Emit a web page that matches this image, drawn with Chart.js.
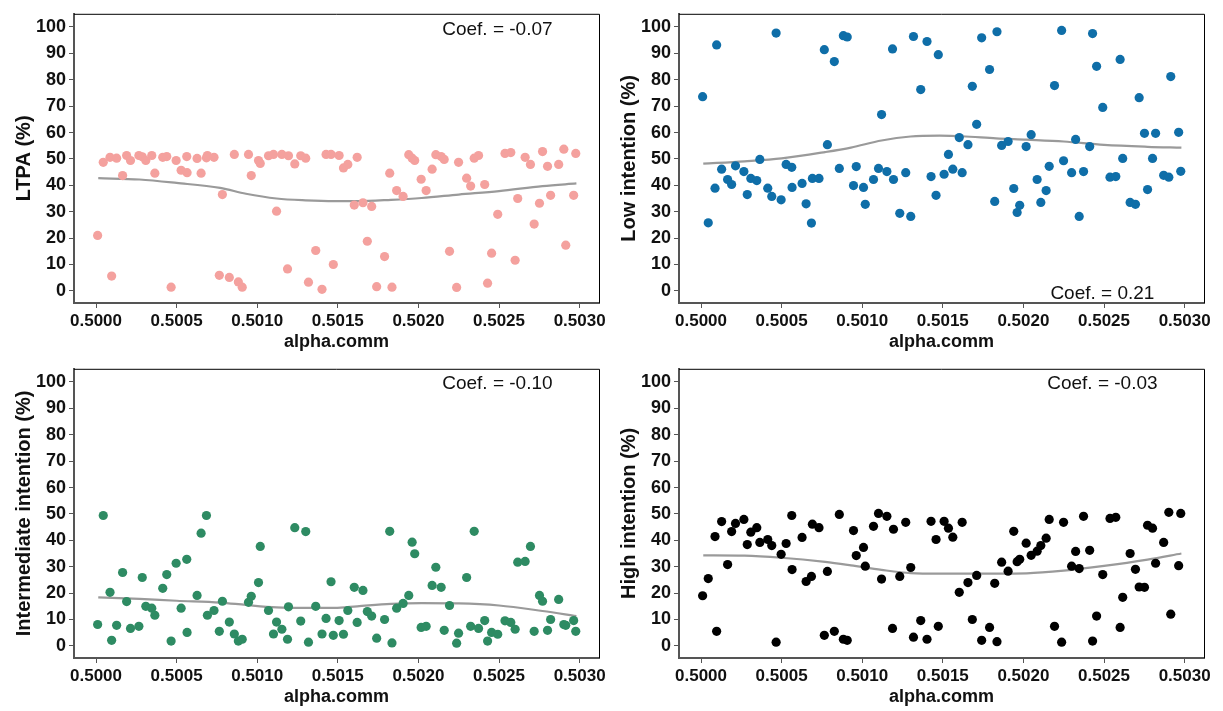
<!DOCTYPE html>
<html>
<head>
<meta charset="utf-8">
<script src="https://cdn.jsdelivr.net/npm/chart.js@4.4.0/dist/chart.umd.min.js"></script>
<style>
  html, body { margin: 0; padding: 0; background: #fff; }
  #wrap { position: relative; width: 1223px; height: 711px; overflow: hidden; }
  .panel { position: absolute; }
</style>
</head>
<body>
<div id="wrap">
  <canvas id="c1" class="panel" width="611" height="355" style="left:0;top:0"></canvas>
  <canvas id="c2" class="panel" width="612" height="355" style="left:611px;top:0"></canvas>
  <canvas id="c3" class="panel" width="611" height="356" style="left:0;top:355px"></canvas>
  <canvas id="c4" class="panel" width="612" height="356" style="left:611px;top:355px"></canvas>
</div>
<script>
// alpha.comm values shared by all four panels
const alpha = [
  0.50001, 0.500045, 0.500087, 0.500097, 0.500128, 0.500165, 0.50019, 0.500214, 0.500266, 0.500287,
  0.500309, 0.500346, 0.500365, 0.500414, 0.500439, 0.500466, 0.500497, 0.500528, 0.500563, 0.500565,
  0.500627, 0.500652, 0.500685, 0.500691, 0.500732, 0.500765, 0.500784, 0.500827, 0.500858, 0.500883,
  0.500907, 0.500946, 0.500963, 0.501008, 0.501019, 0.50107, 0.501101, 0.50112, 0.501153, 0.501188,
  0.501194, 0.501233, 0.50127, 0.501301, 0.501318, 0.501363, 0.501402, 0.501427, 0.501458, 0.501472,
  0.501508, 0.501535, 0.501562, 0.501602, 0.50162, 0.501656, 0.501683, 0.50171, 0.501741, 0.50179,
  0.501822, 0.501836, 0.501865, 0.501905, 0.50194, 0.501961, 0.501977, 0.502017, 0.502048, 0.502085,
  0.502108, 0.502141, 0.50216, 0.502193, 0.502237, 0.502249, 0.502299, 0.502324, 0.502346, 0.502373,
  0.502411, 0.502429, 0.502454, 0.502492, 0.502537, 0.502573, 0.5026, 0.502616, 0.502662, 0.502695,
  0.502718, 0.502751, 0.50277, 0.502801, 0.50282, 0.50287, 0.502902, 0.502914, 0.502963, 0.502976
];

const ltpa = [
  21.0, 48.7, 50.6, 5.6, 50.3, 43.7, 51.3, 49.4, 51.3, 50.8,
  49.4, 51.3, 44.6, 50.6, 50.9, 1.4, 49.4, 45.7, 50.9, 44.8,
  50.2, 44.6, 50.4, 51.3, 50.6, 5.9, 36.5, 5.1, 51.7, 3.4,
  1.4, 51.7, 43.7, 49.4, 48.3, 51.2, 51.7, 30.2, 51.7, 8.3,
  51.2, 48.1, 51.2, 50.3, 3.3, 15.3, 0.6, 51.7, 51.7, 10.0,
  51.3, 46.6, 47.9, 32.5, 50.6, 33.4, 18.8, 32.0, 1.6, 13.0,
  44.6, 1.4, 38.0, 35.8, 51.6, 50.3, 49.4, 42.3, 38.0, 46.1,
  51.6, 50.9, 49.8, 15.0, 1.3, 48.7, 42.7, 39.7, 50.3, 51.3,
  40.3, 2.9, 14.3, 29.0, 52.1, 52.4, 11.6, 35.0, 50.6, 47.9,
  25.3, 33.2, 52.8, 47.2, 36.2, 47.9, 53.7, 17.3, 36.2, 52.1
];

const lowInt = [
  73.6, 25.8, 38.9, 93.2, 46.1, 42.2, 40.3, 47.4, 45.2, 36.5,
  42.6, 41.8, 49.8, 38.9, 35.8, 97.7, 34.5, 47.9, 46.8, 39.2,
  40.7, 33.0, 25.7, 42.6, 42.6, 91.4, 55.4, 86.9, 46.4, 96.7,
  96.2, 39.9, 47.1, 39.2, 32.8, 42.2, 46.4, 66.8, 45.2, 91.7,
  42.2, 29.4, 44.8, 28.2, 96.4, 76.3, 94.5, 43.3, 36.2, 89.5,
  44.2, 51.7, 46.1, 58.1, 44.8, 55.4, 77.5, 63.1, 95.9, 83.9,
  33.9, 98.2, 55.1, 56.6, 38.8, 29.7, 32.4, 54.7, 59.2, 42.2,
  33.5, 38.0, 47.2, 77.8, 98.7, 49.3, 44.8, 57.4, 28.2, 45.2,
  54.7, 97.5, 85.1, 69.5, 43.1, 43.3, 87.7, 50.2, 33.5, 32.8,
  73.2, 59.7, 38.4, 50.2, 59.7, 43.8, 43.1, 81.2, 60.1, 45.3
];

const midInt = [
  8.1, 49.4, 20.3, 2.1, 7.8, 27.8, 16.8, 6.6, 7.4, 25.9,
  15.0, 14.3, 11.6, 21.8, 27.0, 1.8, 31.3, 14.3, 32.8, 5.1,
  19.1, 42.7, 49.4, 11.6, 13.4, 5.5, 16.9, 9.0, 4.5, 1.8,
  2.5, 16.5, 18.8, 24.0, 37.7, 13.4, 4.5, 9.0, 6.3, 2.5,
  14.8, 44.8, 9.4, 43.3, 1.4, 15.0, 4.5, 10.4, 24.3, 4.0,
  9.6, 4.4, 13.4, 22.2, 8.9, 21.0, 13.0, 11.3, 2.9, 10.0,
  43.4, 1.1, 14.3, 16.1, 19.1, 39.3, 34.9, 7.0, 7.4, 22.9,
  29.8, 22.2, 5.9, 15.3, 1.0, 4.8, 25.9, 7.4, 43.4, 6.6,
  9.6, 1.8, 5.1, 4.4, 9.5, 8.9, 6.3, 31.7, 32.0, 37.7,
  5.5, 19.1, 16.9, 5.9, 10.0, 17.6, 8.1, 7.8, 9.6, 5.5
];

const highInt = [
  19.0, 25.5, 41.4, 5.5, 47.1, 30.8, 43.3, 46.4, 47.9, 38.4,
  43.1, 44.8, 39.2, 40.3, 38.0, 1.4, 34.7, 38.8, 49.4, 28.9,
  41.1, 24.4, 26.3, 46.1, 44.8, 4.0, 28.2, 5.5, 49.8, 2.5,
  2.1, 43.7, 34.2, 37.3, 30.2, 45.3, 50.2, 25.3, 49.1, 6.6,
  44.2, 26.3, 46.8, 29.7, 3.3, 9.6, 2.5, 47.2, 40.3, 7.4,
  47.2, 44.6, 41.2, 20.3, 46.8, 24.0, 10.0, 26.7, 2.1, 7.0,
  23.7, 1.6, 31.7, 28.3, 43.4, 31.9, 32.8, 38.9, 34.3, 35.9,
  38.0, 40.8, 47.9, 7.4, 1.4, 46.8, 30.2, 35.8, 29.3, 49.1,
  36.2, 1.8, 11.3, 27.0, 48.3, 48.7, 7.0, 18.4, 35.0, 29.0,
  22.3, 22.2, 45.7, 44.6, 31.3, 39.2, 50.6, 12.0, 30.4, 50.2
];

// loess smooth curves
const fitAlpha = [0.500014, 0.50027, 0.5005, 0.50077, 0.50093, 0.50112, 0.5013, 0.50148,
                  0.50162, 0.50183, 0.50202, 0.50225, 0.5025, 0.50277, 0.50298];
const ltpaFit = [42.7, 42.2, 40.9, 39.0, 36.8, 35.0, 34.3, 34.0, 34.0, 34.5, 35.2, 36.5, 37.8, 39.7, 40.7];
const lowFit  = [48.2, 49.1, 50.2, 52.6, 54.3, 57.0, 58.5, 58.8, 58.6, 57.8, 57.3, 56.6, 55.3, 54.6, 54.3];
const midFit  = [18.4, 17.8, 17.1, 16.4, 15.5, 14.6, 14.4, 14.4, 15.0, 15.9, 16.2, 16.1, 15.3, 13.2, 11.3];
const highFit = [34.3, 34.2, 33.4, 31.8, 30.5, 28.8, 27.6, 27.4, 27.4, 27.4, 27.5, 28.5, 30.3, 32.7, 35.0];

const xTicks = [0.5, 0.5005, 0.501, 0.5015, 0.502, 0.5025, 0.503];
const yTicks = [0, 10, 20, 30, 40, 50, 60, 70, 80, 90, 100];

const FONT = '"Liberation Sans", Arial, sans-serif';

// top and right frame lines, plus the coefficient label
const framePlugin = {
  id: 'frame',
  afterDatasetsDraw(chart, args, opts) {
    const { ctx, chartArea: a, scales } = chart;
    ctx.save();
    ctx.strokeStyle = '#000';
    ctx.lineWidth = 1;
    ctx.beginPath();
    ctx.moveTo(a.left, a.top + 0.5);
    ctx.lineTo(a.right + 0.5, a.top + 0.5);
    ctx.lineTo(a.right + 0.5, a.bottom);
    ctx.stroke();
    ctx.fillStyle = '#111';
    ctx.font = '19px ' + FONT;
    ctx.textAlign = 'center';
    ctx.textBaseline = 'middle';
    ctx.fillText(opts.text, scales.x.getPixelForValue(opts.x), scales.y.getPixelForValue(opts.y));
    ctx.restore();
  }
};

function makePanel(id, yTitle, values, fit, color, coef, coefY, padLeft, padRight, padBottom) {
  const points = alpha.map((a, i) => ({ x: a, y: values[i] }));
  const line = fitAlpha.map((a, i) => ({ x: a, y: fit[i] }));
  new Chart(document.getElementById(id), {
    type: 'scatter',
    data: {
      datasets: [
        { data: points, backgroundColor: color, borderWidth: 0, pointRadius: 4.6, pointHoverRadius: 4.6 },
        { data: line, showLine: true, borderColor: '#9a9a9a', borderWidth: 2.2, pointRadius: 0,
          cubicInterpolationMode: 'monotone', fill: false }
      ]
    },
    options: {
      responsive: false,
      animation: false,
      events: [],
      layout: { padding: { left: padLeft, right: padRight, top: 11, bottom: padBottom } },
      plugins: {
        legend: { display: false },
        tooltip: { enabled: false },
        frame: { text: coef, x: 0.50249, y: coefY }
      },
      scales: {
        x: {
          type: 'linear',
          min: 0.4998635,
          max: 0.5031202,
          afterBuildTicks: s => { s.ticks = xTicks.map(v => ({ value: v })); },
          afterFit: s => { s.height = 50; },
          ticks: {
            autoSkip: false, maxRotation: 0, padding: 3, color: '#111',
            font: { family: FONT, size: 17, weight: 'bold' },
            callback: v => Number(v).toFixed(4)
          },
          grid: { drawOnChartArea: false, tickLength: 5, tickColor: '#555', tickWidth: 1 },
          border: { color: '#555', width: 2 },
          title: { display: true, text: 'alpha.comm', color: '#111', padding: 0,
                   font: { family: FONT, size: 18, weight: 'bold' } }
        },
        y: {
          min: -4.6,
          max: 105,
          afterBuildTicks: s => { s.ticks = yTicks.map(v => ({ value: v })); },
          afterFit: s => { s.width = 62; },
          ticks: { padding: 3, color: '#111', font: { family: FONT, size: 18, weight: 'bold' } },
          grid: { drawOnChartArea: false, tickLength: 5, tickColor: '#555', tickWidth: 1 },
          border: { color: '#555', width: 2 },
          title: { display: true, text: yTitle, color: '#111', padding: 0,
                   font: { family: FONT, size: 20, weight: 'bold' } }
        }
      }
    },
    plugins: [framePlugin]
  });
}

makePanel('c1', 'LTPA (%)', ltpa, ltpaFit, '#F4A19E', 'Coef. = -0.07', 99, 12, 12, 2);
makePanel('c2', 'Low intention (%)', lowInt, lowFit, '#0F6EA8', 'Coef. = 0.21', -1, 6, 19, 2);
makePanel('c3', 'Intermediate intention (%)', midInt, midFit, '#2E8B63', 'Coef. = -0.10', 99.5, 12, 12, 3);
makePanel('c4', 'High intention (%)', highInt, highFit, '#000000', 'Coef. = -0.03', 99.5, 6, 19, 3);
</script>
</body>
</html>
